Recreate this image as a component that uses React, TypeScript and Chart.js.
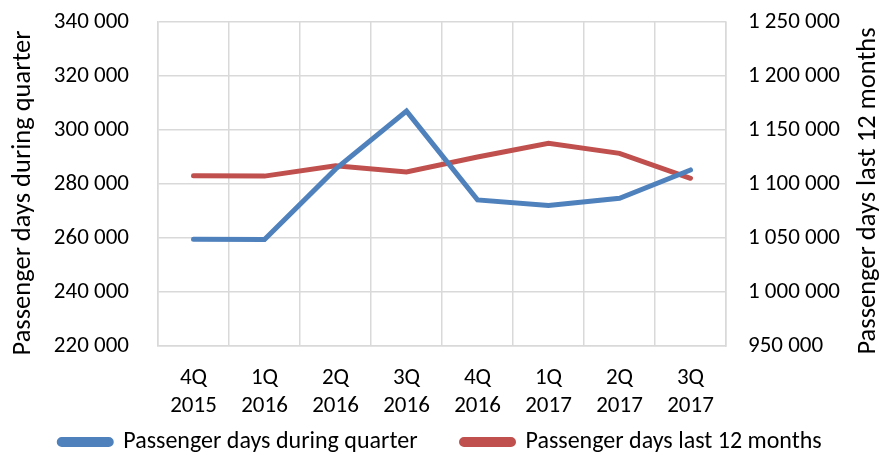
import React, { useEffect, useRef } from "react";
import { Chart, registerables } from "chart.js";

Chart.register(...registerables);

const categories: string[][] = [
  ["4Q", "2015"],
  ["1Q", "2016"],
  ["2Q", "2016"],
  ["3Q", "2016"],
  ["4Q", "2016"],
  ["1Q", "2017"],
  ["2Q", "2017"],
  ["3Q", "2017"],
];
const quarterDays: number[] = [259500, 259400, 285500, 307000, 274100, 272000, 274700, 285200];
const last12Days: number[] = [1107700, 1107300, 1116800, 1111100, 1125000, 1137600, 1128400, 1105300];
const leftTitle = "Passenger days during quarter";
const rightTitle = "Passenger days last 12 months";

const FONT = "Carlito, Calibri, Lato, sans-serif";
const BLUE = "#4F81BD";
const RED = "#C0504D";
const GRID = "#D9D9D9";
const FS = 23;
const LEGEND_FS = 24;

const fmt = (v: number | string) =>
  String(Math.round(Number(v))).replace(/\B(?=(\d{3})+(?!\d))/g, " ");

const titlesPlugin = {
  id: "axisTitles",
  beforeDraw(chart: any) {
    const xs = chart.scales.x;
    if (xs) xs._computeLabelArea = () => undefined;
  },
  afterDraw(chart: any) {
    const ctx = chart.ctx;
    const draw = (text: string, x: number, y: number) => {
      ctx.save();
      ctx.fillStyle = "#000";
      ctx.font = `26.5px ${FONT}`;
      ctx.textAlign = "center";
      ctx.textBaseline = "middle";
      ctx.translate(x, y);
      ctx.rotate(-Math.PI / 2);
      ctx.fillText(text, 0, 0);
      ctx.restore();
    };
    const area = chart.chartArea;
    const cy = (area.top + area.bottom) / 2;
    draw(leftTitle, 23, cy + 9);
    draw(rightTitle, 868, cy + 7);
  },
};

export default function App() {
  const ref = useRef<HTMLCanvasElement | null>(null);
  useEffect(() => {
    if (!ref.current) return;
    const chart = new Chart(ref.current, {
      type: "line",
      data: {
        labels: categories,
        datasets: [
          {
            label: "Passenger days during quarter",
            data: quarterDays,
            borderColor: BLUE,
            backgroundColor: BLUE,
            borderWidth: 5,
            pointRadius: 0,
            yAxisID: "y",
            tension: 0,
            borderCapStyle: "round",
          },
          {
            label: "Passenger days last 12 months",
            data: last12Days,
            borderColor: RED,
            backgroundColor: RED,
            borderWidth: 5,
            pointRadius: 0,
            yAxisID: "y1",
            tension: 0,
            borderCapStyle: "round",
          },
        ],
      },
      options: {
        animation: false,
        responsive: false,
        maintainAspectRatio: false,
        layout: { padding: { top: 22, bottom: -9, left: 0, right: 0 } },
        plugins: {
          tooltip: { enabled: false },
          legend: {
            position: "bottom",
            labels: {
              color: "#000",
              font: { family: FONT, size: LEGEND_FS },
              boxWidth: 52,
              boxHeight: 5,
              padding: 44,
              useBorderRadius: true,
              borderRadius: 2.5,
            },
          },
        },
        scales: {
          x: {
            offset: true,
            grid: { color: GRID, lineWidth: 1.5, offset: true, drawTicks: false },
            border: { color: GRID, width: 1.5 },
            ticks: {
              color: "#000",
              font: { family: FONT, size: FS, lineHeight: 1.22 },
              padding: 18,
              maxRotation: 0,
              autoSkip: false,
            },
            afterFit: (s: any) => {
              s.height = 40;
            },
          },
          y: {
            position: "left",
            min: 220000,
            max: 340000,
            grid: {
              color: GRID,
              lineWidth: 1.5,
              drawTicks: true,
              tickLength: 29,
              tickColor: "rgba(0,0,0,0)",
            },
            border: { color: GRID, width: 1.5 },
            ticks: {
              stepSize: 20000,
              color: "#000",
              font: { family: FONT, size: FS },
              padding: 0,
              callback: (v: any) => fmt(v),
            },
            afterFit: (s: any) => {
              s.width = 158;
            },
          },
          y1: {
            position: "right",
            min: 950000,
            max: 1250000,
            grid: {
              drawOnChartArea: false,
              drawTicks: true,
              tickLength: 22,
              tickColor: "rgba(0,0,0,0)",
            },
            border: { color: GRID, width: 1.5 },
            ticks: {
              stepSize: 50000,
              color: "#000",
              font: { family: FONT, size: FS },
              padding: 0,
              callback: (v: any) => fmt(v),
            },
            afterFit: (s: any) => {
              s.width = 155;
            },
          },
        },
      },
      plugins: [titlesPlugin],
    });
    return () => chart.destroy();
  }, []);
  return (
    <div style={{ position: "absolute", left: 0, top: 0, width: 881, height: 455 }}>
      <canvas ref={ref} width={881} height={455} />
    </div>
  );
}
